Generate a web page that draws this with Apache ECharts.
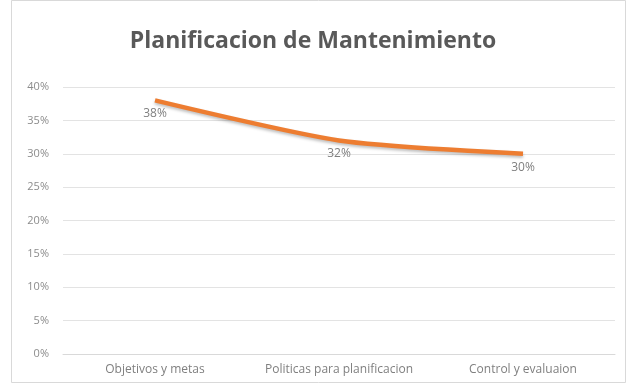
<!DOCTYPE html>
<html>
<head>
<meta charset="utf-8">
<script src="https://cdn.jsdelivr.net/npm/echarts@6/dist/echarts.min.js"></script>
<style>
  html, body { margin: 0; padding: 0; background: #fff; }
  #chart { width: 626px; height: 384px; }
</style>
</head>
<body>
<div id="chart"></div>
<script>
const titleText = 'Planificacion de Mantenimiento';
const categories = ['Objetivos y metas', 'Politicas para planificacion', 'Control y evaluaion'];
const values = [0.38, 0.32, 0.30];
const yTicks = [0, 0.05, 0.10, 0.15, 0.20, 0.25, 0.30, 0.35, 0.40];

const chart = echarts.init(document.getElementById('chart'));
const pct = v => Math.round(v * 100) + '%';

chart.setOption({
  backgroundColor: '#fff',
  animation: false,
  title: {
    text: titleText,
    left: 'center',
    top: 25,
    textStyle: { fontFamily: 'Open Sans', fontWeight: 'bold', fontSize: 23, color: '#595959' }
  },
  grid: { left: 63, right: 11, top: 87, bottom: 30 },
  xAxis: {
    type: 'category',
    data: categories,
    boundaryGap: true,
    axisLine: { lineStyle: { color: '#d9d9d9', width: 1 } },
    axisTick: { show: false },
    axisLabel: { color: '#7f7f7f', fontFamily: 'Open Sans', fontSize: 12, margin: 10, interval: 0 }
  },
  yAxis: {
    type: 'value',
    min: yTicks[0],
    max: yTicks[yTicks.length - 1],
    interval: 0.05,
    axisLine: { show: false },
    axisTick: { show: false },
    splitLine: { lineStyle: { color: '#e3e3e3', width: 1 } },
    axisLabel: { color: '#8c8c8c', fontFamily: 'Open Sans', fontSize: 11, margin: 14, formatter: pct }
  },
  series: [{
    type: 'line',
    data: values,
    smooth: 0.25,
    symbol: 'circle',
    symbolSize: 1,
    showAllSymbol: true,
    itemStyle: { color: 'rgba(0,0,0,0)' },
    lineStyle: {
      color: '#ED7D31', width: 4.5,
      shadowColor: 'rgba(0,0,0,0.25)', shadowBlur: 3, shadowOffsetY: 2
    },
    label: {
      show: true,
      position: 'bottom',
      distance: 7,
      color: '#7f7f7f',
      fontFamily: 'Open Sans',
      fontSize: 12,
      formatter: p => pct(p.value)
    }
  }],
  graphic: [{
    type: 'rect',
    shape: { x: 11.5, y: 0.5, width: 614, height: 382 },
    style: { fill: 'none', stroke: '#d9d9d9', lineWidth: 1 },
    silent: true
  }]
});
</script>
</body>
</html>
